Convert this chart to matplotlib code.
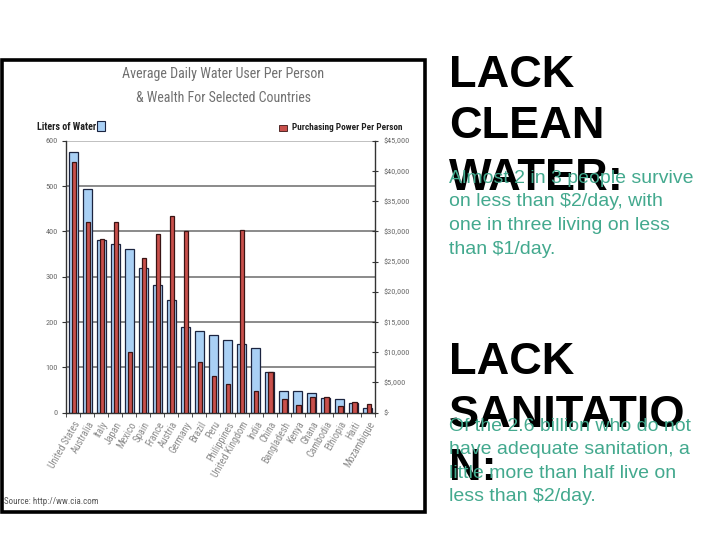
import matplotlib
matplotlib.use('Agg')
import matplotlib.pyplot as plt
from matplotlib.patches import Rectangle
from matplotlib import font_manager as fm
import numpy as np

countries = ['United States', 'Australia', 'Italy', 'Japan', 'Mexico', 'Spain', 'France',
             'Austria', 'Germany', 'Brazil', 'Peru', 'Philippines', 'United Kingdom', 'India',
             'China', 'Bangladesh', 'Kenya', 'Ghana', 'Cambodia', 'Ethiopia', 'Haiti', 'Mozambique']
liters = [575, 493, 381, 372, 362, 320, 281, 249, 190, 180, 172, 161, 151, 142,
          90, 48, 48, 43, 33, 30, 21, 11]
ppp = [41500, 31600, 28700, 31600, 10000, 25600, 29500, 32500, 30100, 8400, 6000, 4800,
       30200, 3600, 6800, 2300, 1200, 2600, 2600, 1100, 1800, 1400]
left_ticks = [0, 100, 200, 300, 400, 500, 600]
right_ticks = [0, 5000, 10000, 15000, 20000, 25000, 30000, 35000, 40000, 45000]
right_labels = ['$-', '$5,000', '$10,000', '$15,000', '$20,000', '$25,000', '$30,000',
                '$35,000', '$40,000', '$45,000']
chart_title = ['Average Daily Water User Per Person', '& Wealth For Selected Countries']
legend_left = 'Liters of Water'
legend_right = 'Purchasing Power Per Person'
source = 'Source: http://ww.cia.com'
head1 = ['LACK', 'CLEAN', 'WATER:']
body1 = ['Almost 2 in 3 people survive', 'on less than $2/day, with',
         'one in three living on less', 'than $1/day.']
head2 = ['LACK', 'SANITATIO', 'N:']
body2 = ['Of the 2.6 billion who do not', 'have adequate sanitation, a',
         'little more than half live on', 'less than $2/day.']

names = {f.name for f in fm.fontManager.ttflist}
SANS = 'Liberation Sans' if 'Liberation Sans' in names else 'DejaVu Sans'

CONDENSED = ('condensed', 'semi-condensed', 'extra-condensed', 'ultra-condensed')


def _weight(e):
    w = e.weight
    if isinstance(w, str):
        w = fm.weight_dict.get(w, 400)
    return w


def _is_narrow(e):
    if 'Serif' in e.name or 'Mono' in e.name:
        return False
    st = e.stretch
    if isinstance(st, str):
        cond = st in CONDENSED
    else:
        cond = st < 500
    return cond or 'Narrow' in e.name or 'Condensed' in e.name


def _rank(e):
    order = ['Liberation Sans Narrow', 'Arial Narrow', 'Roboto Condensed', 'Open Sans Condensed',
             'Noto Sans', 'DejaVu Sans', 'Roboto', 'Open Sans']
    for i, o in enumerate(order):
        if e.name.startswith(o):
            return i
    return len(order)


def find_narrow(bold):
    cands = [e for e in fm.fontManager.ttflist
             if _is_narrow(e) and e.style == 'normal'
             and ((_weight(e) >= 600) if bold else (350 <= _weight(e) <= 500))]
    if not cands:
        return None
    cands.sort(key=_rank)
    return cands[0].fname


NARROW_REG = find_narrow(False)
NARROW_BOLD = find_narrow(True)


def nprops(size, bold=False):
    path = NARROW_BOLD if bold else NARROW_REG
    if path:
        return fm.FontProperties(fname=path, size=size)
    return fm.FontProperties(family='DejaVu Sans', weight='bold' if bold else 'normal', size=size)


W, H = 720, 540
fig = plt.figure(figsize=(7.2, 5.4), dpi=100)
fig.patch.set_facecolor('white')
renderer = fig.canvas.get_renderer()


def fx(v):
    return v / W


def fy(v):
    return 1 - v / H


def fit_size(s, target, bold=False):
    t = fig.text(0, 0, s, fontproperties=nprops(10, bold))
    w = t.get_window_extent(renderer).width
    t.remove()
    return 10 * target / w


BLUE = '#a9d0f5'
RED = '#c9504c'
GRID = '#8a8a8a'
TXT = '#6a6a6a'

tick_size = fit_size('$45,000', 26)
xlab_size = fit_size('United Kingdom', 62)

ax = fig.add_axes([fx(66), fy(412.7), (375 - 66) / W, (412.7 - 140.7) / H])
ax2 = ax.twinx()
x = np.arange(len(countries))
ax.set_axisbelow(True)
ax.bar(x, liters, width=0.64, color=BLUE, edgecolor='#1b2440', linewidth=0.9, zorder=2)
ax2.bar(x + 0.05, ppp, width=0.31, color=RED, edgecolor='#3a1414', linewidth=0.9, zorder=3)

ax.set_xlim(-0.5, len(countries) - 0.5)
ax.set_ylim(0, 600)
ax2.set_ylim(0, 45000)
ax.set_yticks(left_ticks)
ax.set_yticklabels([str(t) for t in left_ticks], fontproperties=nprops(tick_size), color=TXT)
ax2.set_yticks(right_ticks)
ax2.set_yticklabels(right_labels, fontproperties=nprops(tick_size), color=TXT)
for t in left_ticks[1:]:
    ax.axhline(t, color=GRID if t < 600 else '#c0c0c0', lw=1.4, zorder=1)

ax.set_xticks(x)
ax.set_xticklabels(countries, rotation=60, ha='right', va='top', rotation_mode='anchor',
                   fontproperties=nprops(xlab_size), color='#8a8a8a')
ax.set_xticks(np.arange(len(countries) + 1) - 0.5, minor=True)
ax.tick_params(axis='x', which='major', length=0, pad=5)
ax.tick_params(axis='x', which='minor', length=3, direction='out', color='#333333')
ax.tick_params(axis='y', length=3, direction='out', color='#333333', pad=3)
ax2.tick_params(axis='y', length=4, direction='inout', color='#333333', pad=4)

for s in ['top', 'right']:
    ax.spines[s].set_visible(False)
for s in ['top', 'left', 'bottom']:
    ax2.spines[s].set_visible(False)
for a, s in [(ax, 'left'), (ax, 'bottom'), (ax2, 'right')]:
    a.spines[s].set_color('#333333')
    a.spines[s].set_linewidth(1.0)

# chart titles and legend
fig.text(fx(223.5), fy(74), chart_title[0], ha='center', va='center',
         fontproperties=nprops(fit_size(chart_title[0], 201)), color='#707070')
fig.text(fx(223.5), fy(98.5), chart_title[1], ha='center', va='center',
         fontproperties=nprops(fit_size(chart_title[1], 175)), color='#707070')
fig.text(fx(37), fy(127), legend_left, ha='left', va='center',
         fontproperties=nprops(fit_size(legend_left, 59, True), True), color='#222222')
fig.patches.append(Rectangle((fx(97), fy(131)), 8 / W, 10 / H, transform=fig.transFigure,
                             facecolor=BLUE, edgecolor='#1b2440', lw=0.8))
fig.patches.append(Rectangle((fx(279), fy(131)), 8 / W, 6 / H, transform=fig.transFigure,
                             facecolor=RED, edgecolor='#3a1414', lw=0.6))
fig.text(fx(292), fy(127), legend_right, ha='left', va='center',
         fontproperties=nprops(fit_size(legend_right, 110, True), True), color='#222222')
fig.text(fx(4), fy(502), source, ha='left', va='center',
         fontproperties=nprops(fit_size(source, 94)), color='#555555')

# frame around chart picture
fig.patches.append(Rectangle((fx(1.8), fy(511.5)), (424.7 - 1.8) / W, (511.5 - 59.8) / H,
                             transform=fig.transFigure, fill=False, lw=2.6, ec='black'))

# slide text
HX = 449
for line, yb in zip(head1, [87, 138.5, 190]):
    fig.text(fx(HX), fy(yb), line, ha='left', va='baseline', fontsize=32.5,
             color='black', family=SANS, weight='bold', zorder=5)
for line, yb in zip(head2, [374, 427, 480]):
    fig.text(fx(HX), fy(yb), line, ha='left', va='baseline', fontsize=32.5,
             color='black', family=SANS, weight='bold', zorder=5)
TEAL = '#43a98e'
for line, yb in zip(body1, [183, 206.5, 230, 253.5]):
    fig.text(fx(HX), fy(yb), line, ha='left', va='baseline', fontsize=14,
             color=TEAL, family=SANS, zorder=6)
for line, yb in zip(body2, [431, 454.5, 478, 501]):
    fig.text(fx(HX), fy(yb), line, ha='left', va='baseline', fontsize=14,
             color=TEAL, family=SANS, zorder=6)

fig.savefig('out.png', dpi=100, facecolor='white')
